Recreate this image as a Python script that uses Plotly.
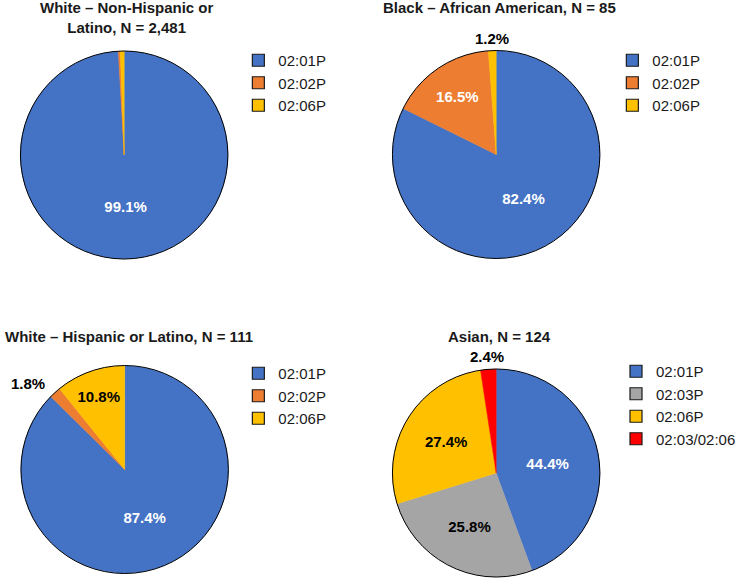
import math
import plotly.graph_objects as go

W, H = 741, 578
FONT = "Liberation Sans, Arial, sans-serif"

# ---- data ----
titles = [
    "White – Non-Hispanic or<br>Latino, N = 2,481",
    "Black – African American, N = 85",
    "White – Hispanic or Latino, N = 111",
    "Asian, N = 124",
]
labels_tl = ["02:01P", "02:02P", "02:06P"]
values_tl = [99.1, 0.3, 0.6]
text_tl = ["99.1%", "", ""]

labels_tr = ["02:01P", "02:02P", "02:06P"]
values_tr = [82.4, 16.5, 1.2]
text_tr = ["82.4%", "16.5%", "1.2%"]

labels_bl = ["02:01P", "02:02P", "02:06P"]
values_bl = [87.4, 1.8, 10.8]
text_bl = ["87.4%", "1.8%", "10.8%"]

labels_br = ["02:01P", "02:03P", "02:06P", "02:03/02:06"]
values_br = [44.4, 25.8, 27.4, 2.4]
text_br = ["44.4%", "25.8%", "27.4%", "2.4%"]

COLORS = {
    "02:01P": "#4472C4",
    "02:02P": "#ED7D31",
    "02:03P": "#A5A5A5",
    "02:06P": "#FFC000",
    "02:03/02:06": "#FF0000",
}
WHITE_TEXT = {("tr", "02:02P")}


def dom(cx, cy, r):
    return dict(x=[(cx - r) / W, (cx + r) / W], y=[1 - (cy + r) / H, 1 - (cy - r) / H])


# (key, labels, values, text, inside-flags, pie centre/radius in px, legend)
panels = [
    ("tl", labels_tl, values_tl, text_tl, [True, True, True], (124.5, 155, 104), "legend"),
    ("tr", labels_tr, values_tr, text_tr, [True, True, False], (497.5, 154.5, 104), "legend2"),
    ("bl", labels_bl, values_bl, text_bl, [True, False, True], (125, 469.5, 104), "legend3"),
    ("br", labels_br, values_br, text_br, [True, True, True, False], (497.5, 473, 104), "legend4"),
]

fig = go.Figure()
shapes = []
annotations = []
for pi, (key, labs, vals, txt, inside, (cx, cy, r), leg) in enumerate(panels):
    colors = [COLORS[l] for l in labs]
    tcol = ["white" if (l == "02:01P" or (key, l) in WHITE_TEXT) else "black" for l in labs]
    tpos = ["inside" if (ins and t) else "none" for ins, t in zip(inside, txt)]
    fig.add_trace(go.Pie(
        labels=[l + "\u200b" * pi for l in labs], values=vals, text=txt, textinfo="text",
        textposition=tpos, sort=False, direction="clockwise", rotation=0,
        marker=dict(colors=colors, line=dict(color=colors, width=0.5)),
        textfont=dict(family=FONT, size=15, color=tcol, weight="bold"),
        insidetextorientation="horizontal",
        domain=dom(cx, cy, r), showlegend=False, hoverinfo="label+percent",
    ))
    # legend swatches (outlined boxes) for this pie's categories
    for l, col in zip(labs, colors):
        fig.add_trace(go.Scatter(
            x=[None], y=[None], mode="markers", name=l, legend=leg, showlegend=True,
            marker=dict(symbol="square", size=12, color=col,
                        line=dict(color="#1a1a1a", width=1.2)),
            hoverinfo="skip",
        ))
    # outer circle outline
    shapes.append(dict(type="circle", xref="paper", yref="paper",
                       x0=(cx - r) / W, x1=(cx + r) / W,
                       y0=1 - (cy + r) / H, y1=1 - (cy - r) / H,
                       line=dict(color="black", width=1)))
    # outside labels for small slices, placed at the slice's mid angle
    total = sum(vals)
    cum = 0.0
    for v, t, ins in zip(vals, txt, inside):
        mid = (cum + v / 2) / total * 2 * math.pi
        cum += v
        if ins or not t:
            continue
        s, c = math.sin(mid), math.cos(mid)
        px, py = cx + 1.12 * r * s, cy - 1.12 * r * c
        xa = "center" if abs(s) < 0.5 else ("left" if s > 0 else "right")
        annotations.append(dict(text="<b>" + t + "</b>", x=px / W, y=1 - py / H,
                                xref="paper", yref="paper", showarrow=False,
                                xanchor=xa, yanchor="middle",
                                font=dict(family=FONT, size=15, color="black")))

legfont = dict(family=FONT, size=15, color="#1a1a1a")


def legend_at(x_px, y_px):
    return dict(x=x_px / W, y=1 - y_px / H, xanchor="left", yanchor="top",
                font=legfont, bgcolor="rgba(0,0,0,0)", traceorder="normal",
                tracegroupgap=0, itemclick=False, itemdoubleclick=False)


title_pos = [(127, 17), (501, 8), (129, 336), (501, 336)]
for t, (x, y) in zip(titles, title_pos):
    annotations.append(dict(
        text="<b>" + t + "</b>", x=x / W, y=1 - y / H, xref="paper", yref="paper",
        showarrow=False, xanchor="center", yanchor="middle",
        font=dict(family=FONT, size=15, color="#1a1a1a"),
    ))

fig.update_layout(
    width=W, height=H,
    margin=dict(l=0, r=0, t=0, b=0),
    paper_bgcolor="white", plot_bgcolor="white",
    xaxis=dict(visible=False), yaxis=dict(visible=False),
    legend=legend_at(239, 44),
    legend2=legend_at(614, 44),
    legend3=legend_at(239, 357),
    legend4=legend_at(618, 355),
    annotations=annotations,
    shapes=shapes,
)

fig.write_html("out.html", config={"displayModeBar": False},
               post_script="document.body.style.margin='0px';")
